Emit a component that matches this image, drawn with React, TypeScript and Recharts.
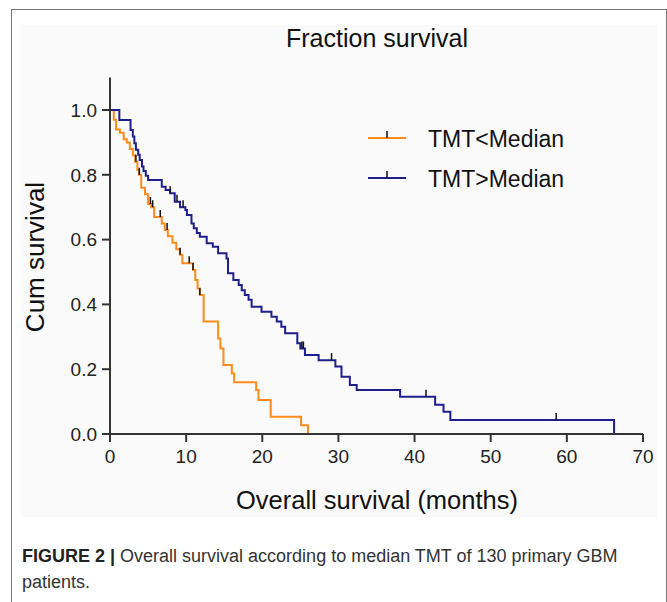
import React from "react";
import { ComposedChart, Line, Scatter, XAxis, YAxis } from "recharts";

// Kaplan-Meier steps (months, cumulative survival)
const lowTime = [0, 0.5, 0.8, 1.3, 1.8, 2.2, 2.6, 3.0, 3.3, 3.6, 3.8, 4.1, 4.6, 5.0, 5.4, 5.8, 6.8, 7.2, 7.6, 8.2, 8.7, 9.2, 9.5, 10.9, 11.2, 11.5, 11.8, 12.3, 14.2, 14.5, 14.9, 16.0, 16.3, 19.2, 19.5, 21.1, 25.1, 26.0];
const lowSurv = [1.0, 0.97, 0.94, 0.93, 0.91, 0.9, 0.88, 0.86, 0.84, 0.815, 0.8, 0.76, 0.74, 0.71, 0.7, 0.67, 0.65, 0.63, 0.61, 0.59, 0.57, 0.553, 0.527, 0.506, 0.475, 0.449, 0.429, 0.347, 0.295, 0.264, 0.213, 0.187, 0.16, 0.136, 0.105, 0.053, 0.027, 0];
const lowCensor = [3.4, 3.85, 5.3, 5.6, 6.6, 7.5, 9.2, 10.4, 10.9, 11.8];

const highTime = [0, 1.23, 2.7, 3.0, 3.2, 3.4, 3.7, 3.9, 4.2, 4.4, 4.7, 5.0, 6.8, 7.3, 7.9, 8.5, 9.2, 9.9, 10.1, 10.7, 11.0, 11.4, 11.8, 12.7, 13.5, 14.2, 15.3, 15.5, 16.2, 16.9, 17.3, 17.7, 18.2, 18.6, 19.9, 21.2, 21.9, 22.5, 23.0, 24.6, 25.0, 25.6, 27.4, 29.6, 30.4, 31.5, 32.4, 38.1, 42.7, 43.8, 44.7, 66.2];
const highSurv = [1.0, 0.969, 0.938, 0.918, 0.897, 0.877, 0.862, 0.846, 0.826, 0.812, 0.797, 0.784, 0.763, 0.753, 0.743, 0.717, 0.7, 0.691, 0.676, 0.65, 0.635, 0.62, 0.609, 0.589, 0.578, 0.558, 0.542, 0.496, 0.475, 0.46, 0.444, 0.429, 0.414, 0.393, 0.377, 0.362, 0.347, 0.331, 0.311, 0.28, 0.264, 0.244, 0.228, 0.208, 0.177, 0.151, 0.136, 0.115, 0.09, 0.069, 0.043, 0];
const highCensor = [7.9, 8.8, 9.6, 25.2, 25.4, 29.1, 41.5, 58.6];

const xTicks = [0, 10, 20, 30, 40, 50, 60, 70];
const yTicks = [0, 0.2, 0.4, 0.6, 0.8, 1.0];
const seriesNames = ["TMT<Median", "TMT>Median"];

const ORANGE = "#FF8B1A";
const NAVY = "#1E1E8E";
const FONT = "'Liberation Sans', Arial, sans-serif";

const toSteps = (time: number[], surv: number[]) => time.map((t, i) => ({ t, s: surv[i] }));

// place a censor mark on the curve at time t
const toCensor = (times: number[], time: number[], surv: number[]) =>
  times.map((t) => {
    let idx = 0;
    time.forEach((v, i) => {
      if (v <= t) idx = i;
    });
    return { t, s: surv[idx] };
  });

const CensorMark = (props: any) => {
  const { cx, cy } = props;
  if (cx == null || cy == null) return null;
  return <line x1={cx} y1={cy - 7} x2={cx} y2={cy} stroke="#111" strokeWidth={1.5} />;
};

export default function App() {
  const lowData = toSteps(lowTime, lowSurv);
  const highData = toSteps(highTime, highSurv);
  const lowMarks = toCensor(lowCensor, lowTime, lowSurv);
  const highMarks = toCensor(highCensor, highTime, highSurv);

  const tickStyle = { fill: "#222", fontSize: 19, fontFamily: FONT };

  return (
    <div style={{ position: "relative", width: 667, height: 602, background: "#fff", overflow: "hidden", fontFamily: FONT }}>
      <style>{"body{margin:0}"}</style>
      {/* figure frame */}
      <div
        style={{
          position: "absolute",
          left: 11,
          top: 9,
          width: 654,
          height: 620,
          border: "1.5px solid #777",
        }}
      />
      {/* panel background */}
      <div style={{ position: "absolute", left: 21, top: 25, width: 636, height: 492, background: "#FAFAFA" }} />

      <div style={{ position: "absolute", left: 0, top: 0 }}>
        <ComposedChart width={667} height={530} margin={{ top: 77.6, right: 24, bottom: 0, left: 0 }}>
          <XAxis
            type="number"
            dataKey="t"
            domain={[0, 70]}
            ticks={xTicks}
            allowDataOverflow
            stroke="#333"
            strokeWidth={2}
            tickSize={8}
            tickMargin={8}
            tick={tickStyle}
            height={96}
          />
          <YAxis
            type="number"
            dataKey="s"
            domain={[0, 1.1]}
            ticks={yTicks}
            tickFormatter={(v: number) => v.toFixed(1)}
            allowDataOverflow
            stroke="#333"
            strokeWidth={2}
            tickSize={8}
            tickMargin={5}
            tick={tickStyle}
            width={110}
          />
          <Line
            data={lowData}
            dataKey="s"
            type="stepAfter"
            stroke={ORANGE}
            strokeWidth={2}
            dot={false}
            isAnimationActive={false}
          />
          <Line
            data={highData}
            dataKey="s"
            type="stepAfter"
            stroke={NAVY}
            strokeWidth={2}
            dot={false}
            isAnimationActive={false}
          />
          <Scatter data={lowMarks} dataKey="s" shape={<CensorMark />} isAnimationActive={false} />
          <Scatter data={highMarks} dataKey="s" shape={<CensorMark />} isAnimationActive={false} />
        </ComposedChart>
      </div>

      {/* title, axis titles and legend */}
      <svg width={667} height={530} style={{ position: "absolute", left: 0, top: 0, pointerEvents: "none" }}>
        <text x={377} y={47} textAnchor="middle" fontSize={25} fill="#111" fontFamily={FONT}>
          Fraction survival
        </text>
        <text
          x={44}
          y={257}
          textAnchor="middle"
          fontSize={26}
          fill="#111"
          fontFamily={FONT}
          transform="rotate(-90 44 257)"
        >
          Cum survival
        </text>
        <text x={377} y={509} textAnchor="middle" fontSize={25.5} fill="#111" fontFamily={FONT}>
          Overall survival (months)
        </text>

        {[ORANGE, NAVY].map((c, i) => (
          <g key={seriesNames[i]}>
            <line x1={368} y1={138 + i * 40} x2={406} y2={138 + i * 40} stroke={c} strokeWidth={2} />
            <line x1={387} y1={131 + i * 40} x2={387} y2={138 + i * 40} stroke="#111" strokeWidth={1.5} />
            <text x={428} y={147 + i * 40} fontSize={23} fill="#111" fontFamily={FONT}>
              {seriesNames[i]}
            </text>
          </g>
        ))}
      </svg>

      {/* caption */}
      <div
        style={{
          position: "absolute",
          left: 22,
          top: 543,
          fontSize: 18,
          lineHeight: "26px",
          color: "#333",
          whiteSpace: "nowrap",
        }}
      >
        <b style={{ color: "#222" }}>FIGURE 2 |</b> Overall survival according to median TMT of 130 primary GBM
        <br />
        patients.
      </div>
    </div>
  );
}
